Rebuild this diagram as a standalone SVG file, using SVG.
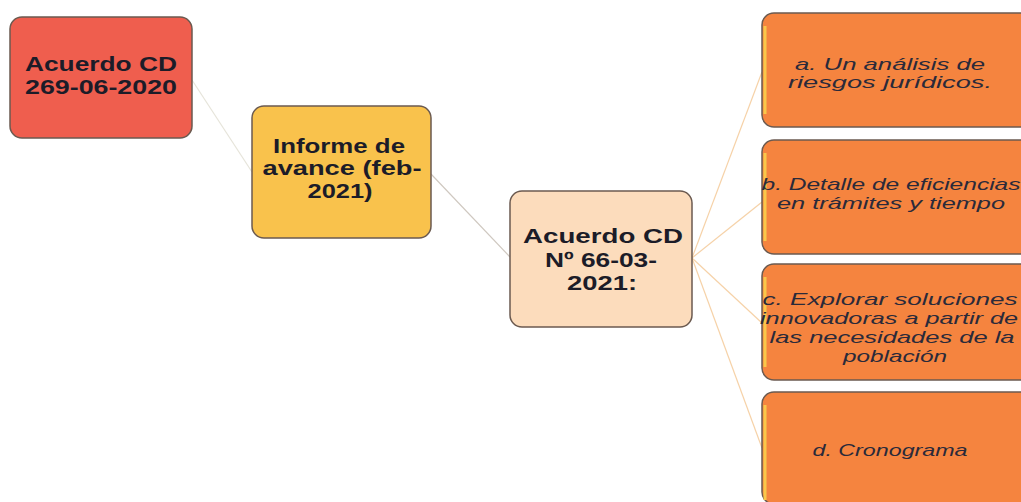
<svg xmlns="http://www.w3.org/2000/svg" width="1021" height="502" viewBox="0 0 1021 502">
<style>
.box{stroke:#6b5a50;stroke-width:1.5}
.bold{font-family:"Liberation Sans",Arial,sans-serif;font-weight:bold;font-size:21px;fill:#1c1c28;text-anchor:middle}
.it{font-family:"Liberation Sans",Arial,sans-serif;font-style:italic;font-size:17px;fill:#2a2a3a;text-anchor:middle}
.strip{stroke:#f9c84a;stroke-width:3}
</style>
<rect width="1021" height="502" fill="#ffffff"/>
<g id="connectors" fill="none" stroke-width="1.2">
<line x1="192" y1="80" x2="252" y2="172" stroke="#e6e4da"/>
<line x1="431" y1="174" x2="510" y2="257" stroke="#cfc8c0"/>
<line x1="692" y1="258" x2="762" y2="72" stroke="#f6d2a8"/>
<line x1="692" y1="258" x2="762" y2="202" stroke="#f6d2a8"/>
<line x1="692" y1="258" x2="762" y2="323" stroke="#f6d2a8"/>
<line x1="692" y1="258" x2="762" y2="448" stroke="#f6d2a8"/>
</g>
<g id="node1">
<rect class="box" x="10" y="17" width="182" height="121" rx="12" fill="#ef5e4e"/>
<text class="bold" x="101" y="71" textLength="152" lengthAdjust="spacingAndGlyphs">Acuerdo CD</text>
<text class="bold" x="101" y="94" textLength="152" lengthAdjust="spacingAndGlyphs">269-06-2020</text>
</g>
<g id="node2">
<rect class="box" x="252" y="106" width="179" height="132" rx="12" fill="#f9c24c"/>
<text class="bold" x="339" y="153" textLength="132" lengthAdjust="spacingAndGlyphs">Informe de</text>
<text class="bold" x="342" y="175" textLength="159" lengthAdjust="spacingAndGlyphs">avance (feb-</text>
<text class="bold" x="340" y="198" textLength="65" lengthAdjust="spacingAndGlyphs">2021)</text>
</g>
<g id="node3">
<rect class="box" x="510" y="191" width="182" height="136" rx="12" fill="#fcdcbc"/>
<text class="bold" x="603" y="243" textLength="160" lengthAdjust="spacingAndGlyphs">Acuerdo CD</text>
<text class="bold" x="601" y="267" textLength="112" lengthAdjust="spacingAndGlyphs">Nº 66-03-</text>
<text class="bold" x="602" y="290" textLength="70" lengthAdjust="spacingAndGlyphs">2021:</text>
</g>
<g id="nodeA">
<rect class="box" x="762" y="13" width="275" height="114" rx="12" fill="#f5843f"/>
<line class="strip" x1="765" y1="26" x2="765" y2="114"/>
<text class="it" x="890" y="70" textLength="190" lengthAdjust="spacingAndGlyphs">a. Un análisis de</text>
<text class="it" x="890" y="88" textLength="204" lengthAdjust="spacingAndGlyphs">riesgos jurídicos.</text>
</g>
<g id="nodeB">
<rect class="box" x="762" y="140" width="275" height="114" rx="12" fill="#f5843f"/>
<line class="strip" x1="765" y1="153" x2="765" y2="241"/>
<text class="it" x="891" y="190" textLength="259" lengthAdjust="spacingAndGlyphs">b. Detalle de eficiencias</text>
<text class="it" x="891" y="209" textLength="228" lengthAdjust="spacingAndGlyphs">en trámites y tiempo</text>
</g>
<g id="nodeC">
<rect class="box" x="762" y="264" width="275" height="116" rx="12" fill="#f5843f"/>
<line class="strip" x1="765" y1="277" x2="765" y2="367"/>
<text class="it" x="890" y="305" textLength="255" lengthAdjust="spacingAndGlyphs">c. Explorar soluciones</text>
<text class="it" x="889" y="324" textLength="258" lengthAdjust="spacingAndGlyphs">innovadoras a partir de</text>
<text class="it" x="892" y="343" textLength="245" lengthAdjust="spacingAndGlyphs">las necesidades de la</text>
<text class="it" x="895" y="362" textLength="104" lengthAdjust="spacingAndGlyphs">población</text>
</g>
<g id="nodeD">
<rect class="box" x="762" y="392" width="275" height="112" rx="12" fill="#f5843f"/>
<line class="strip" x1="765" y1="405" x2="765" y2="500"/>
<text class="it" x="890" y="456" textLength="155" lengthAdjust="spacingAndGlyphs">d. Cronograma</text>
</g>
</svg>
